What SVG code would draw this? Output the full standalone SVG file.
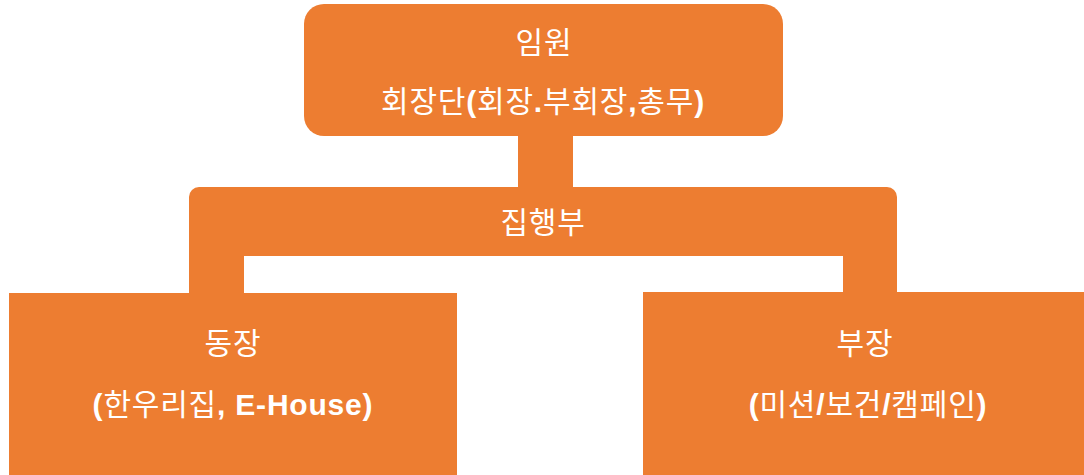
<svg xmlns="http://www.w3.org/2000/svg" width="1084" height="475" viewBox="0 0 1084 475">
<style>
.box{fill:#ED7D31}
.t{fill:#ffffff;font-family:"Liberation Sans","Noto Sans CJK KR",sans-serif;font-size:30px;letter-spacing:0.8px;text-anchor:middle}
.k{font-family:"Noto Sans CJK KR",sans-serif;font-weight:normal}
.b{font-weight:bold}
</style>
<rect width="1084" height="475" fill="#ffffff"/>
<g id="connectors">
<rect class="box" x="518" y="130" width="55" height="62"/>
<rect class="box" x="189" y="250" width="55" height="46"/>
<rect class="box" x="843" y="250" width="54" height="46"/>
</g>
<g id="node-officers">
<rect class="box" x="304" y="4" width="479" height="132" rx="20"/>
<text class="t" x="544" y="53"><tspan class="k">임원</tspan></text>
<text class="t b" x="543" y="112"><tspan class="k">회장단</tspan>(<tspan class="k">회장</tspan>.<tspan class="k">부회장</tspan>,<tspan class="k">총무</tspan>)</text>
</g>
<g id="node-exec">
<path class="box" d="M189,197 a10,10 0 0 1 10,-10 H887 a10,10 0 0 1 10,10 V256 H189 Z"/>
<text class="t" x="543" y="233"><tspan class="k">집행부</tspan></text>
</g>
<g id="node-dorm">
<rect class="box" x="9" y="293" width="448" height="182"/>
<text class="t" x="233" y="354"><tspan class="k">동장</tspan></text>
<text class="t b" x="233" y="415">(<tspan class="k">한우리집</tspan>, E-House)</text>
</g>
<g id="node-dept">
<rect class="box" x="643" y="292" width="441" height="183"/>
<text class="t" x="865" y="354"><tspan class="k">부장</tspan></text>
<text class="t b" x="868" y="415">(<tspan class="k">미션</tspan>/<tspan class="k">보건</tspan>/<tspan class="k">캠페인</tspan>)</text>
</g>
</svg>
